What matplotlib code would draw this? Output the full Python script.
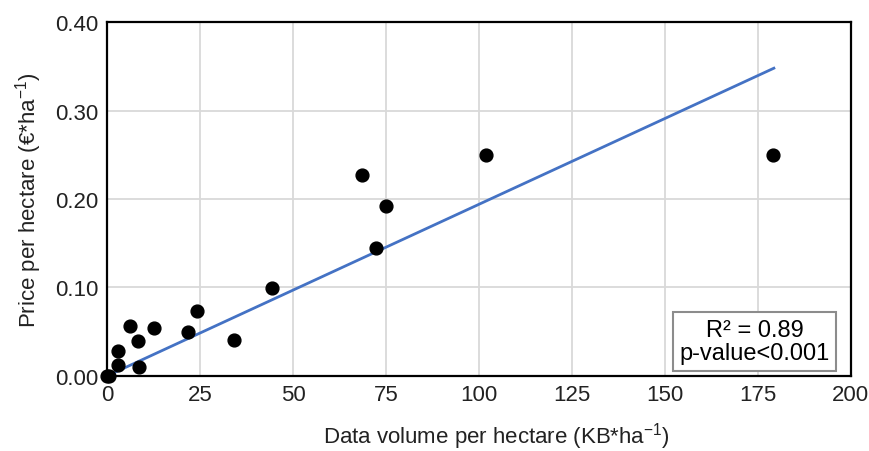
import numpy as np
import matplotlib
matplotlib.use("Agg")
import matplotlib.pyplot as plt

plt.rcParams['font.family'] = ['Liberation Sans', 'DejaVu Sans']
plt.rcParams['mathtext.fontset'] = 'custom'
plt.rcParams['mathtext.rm'] = 'Liberation Sans'
plt.rcParams['mathtext.it'] = 'Liberation Sans:italic'

# data volume (KB/ha) and price (EUR/ha)
volume = [0.0, 0.5, 2.9, 3.0, 6.2, 8.2, 8.7, 12.6, 21.8, 24.2, 34.1, 44.4,
          68.6, 72.2, 74.9, 101.8, 179.0]
price = [0.000, 0.000, 0.012, 0.028, 0.056, 0.040, 0.010, 0.054, 0.050, 0.073,
         0.041, 0.099, 0.227, 0.145, 0.192, 0.250, 0.250]

# linear trend line shown on the chart
trend_x = [0.0, 179.3]
slope = 0.00194
intercept = 0.0
r2_text = "R² = 0.89\np-value<0.001"

xticks = [0, 25, 50, 75, 100, 125, 150, 175, 200]
yticks = [0.0, 0.1, 0.2, 0.3, 0.4]

fig = plt.figure(figsize=(8.7, 4.52), dpi=100)
ax = fig.add_axes([0.123, 0.166, 0.855, 0.783])

tx = np.array(trend_x)
ax.plot(tx, slope * tx + intercept, color='#4472C4', lw=2, zorder=3)
ax.scatter(volume, price, s=85, color='black', zorder=4, clip_on=False)

ax.set_xlim(0, 200)
ax.set_ylim(0, 0.4)
ax.set_xticks(xticks)
ax.set_yticks(yticks)
ax.set_yticklabels(["%.2f" % v for v in yticks])
ax.tick_params(length=0, labelsize=16, colors='#222222', pad=6)
ax.grid(True, color='#d9d9d9', lw=1.3)
ax.set_axisbelow(True)
for s in ax.spines.values():
    s.set_color('black')
    s.set_linewidth(1.6)

ax.set_xlabel(r"Data volume per hectare (KB*ha$^{-1}$)", fontsize=16, color='#222222')
ax.xaxis.set_label_coords(0.523, -0.125)
ax.set_ylabel(r"Price per hectare (€*ha$^{-1}$)", fontsize=16, color='#222222', labelpad=8)

ax.text(0.871, 0.097, r2_text, transform=ax.transAxes, ha='center', va='center',
        fontsize=17, linespacing=1.1,
        bbox=dict(boxstyle='square,pad=0.27', fc='white', ec='#8c8c8c', lw=1.5), zorder=5)

fig.savefig("out.png", dpi=100)
